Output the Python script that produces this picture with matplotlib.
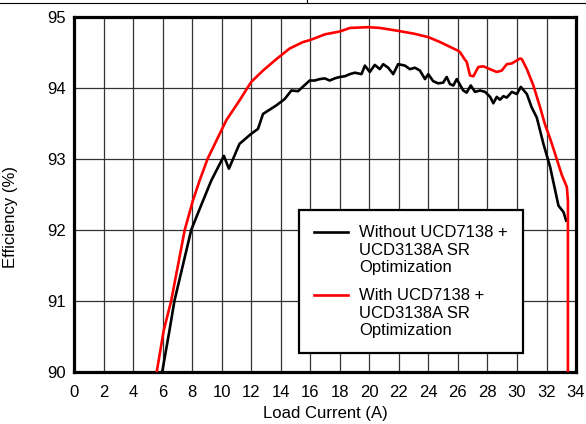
import matplotlib
matplotlib.use("Agg")
import matplotlib.pyplot as plt
from matplotlib.lines import Line2D
from matplotlib.legend_handler import HandlerLine2D

plt.rcParams['font.family'] = ['Liberation Sans', 'DejaVu Sans']

# load current (A) and efficiency (%) without SR optimization
i_without = [5.97, 6.47, 6.8, 7.94, 8.6, 9.29, 10.15, 10.49, 11.21, 12.0, 12.46, 12.8,
             13.7, 14.27, 14.72, 15.17, 15.96, 16.3, 16.64, 16.98, 17.32, 17.66, 18.0,
             18.34, 18.68, 19.02, 19.47, 19.7, 20.03, 20.37, 20.71, 20.94, 21.28, 21.62,
             21.95, 22.41, 22.75, 23.09, 23.43, 23.77, 23.99, 24.33, 24.67, 25.0, 25.24,
             25.46, 25.69, 25.92, 26.36, 26.59, 26.87, 27.16, 27.5, 27.84, 28.18, 28.4,
             28.63, 28.85, 29.08, 29.31, 29.65, 29.99, 30.26, 30.67, 31.0, 31.34, 31.79,
             32.25, 32.81, 33.15, 33.33]
eff_without = [90.0, 90.59, 91.0, 92.0, 92.34, 92.69, 93.04, 92.86, 93.21, 93.35, 93.42, 93.63,
               93.75, 93.84, 93.96, 93.95, 94.10, 94.10, 94.12, 94.13, 94.10, 94.13, 94.15,
               94.16, 94.19, 94.21, 94.19, 94.31, 94.22, 94.32, 94.26, 94.33, 94.28, 94.19,
               94.33, 94.31, 94.26, 94.28, 94.24, 94.12, 94.19, 94.09, 94.06, 94.07, 94.15,
               94.05, 94.03, 94.12, 93.96, 93.93, 94.03, 93.94, 93.96, 93.94, 93.87, 93.78,
               93.87, 93.83, 93.88, 93.86, 93.94, 93.91, 94.01, 93.91, 93.72, 93.58, 93.21,
               92.88, 92.34, 92.25, 92.13]

# load current (A) and efficiency (%) with SR optimization
i_with = [5.6, 6.08, 6.58, 7.5, 8.05, 8.5, 9.05, 10.31, 11.21, 12.0, 12.8, 13.7, 14.6,
          15.5, 16.0, 17.0, 18.0, 18.7, 19.9, 20.7, 21.9, 23.0, 24.0, 24.8, 25.0, 26.0,
          26.14, 26.45, 26.6, 26.82, 27.05, 27.38, 27.72, 28.17, 28.63, 28.97, 29.31,
          29.65, 30.21, 30.33, 30.67, 31.11, 31.57, 31.9, 32.25, 32.47, 33.04, 33.38,
          33.45, 33.45]
eff_with = [90.0, 90.59, 91.0, 92.0, 92.41, 92.69, 93.0, 93.54, 93.82, 94.08, 94.24, 94.40, 94.55,
            94.64, 94.67, 94.75, 94.79, 94.84, 94.85, 94.84, 94.80, 94.76, 94.71, 94.64, 94.62, 94.52,
            94.50, 94.40, 94.36, 94.17, 94.16, 94.29, 94.30, 94.26, 94.22, 94.24, 94.33,
            94.34, 94.41, 94.40, 94.26, 94.03, 93.72, 93.48, 93.28, 93.14, 92.77, 92.60,
            92.41, 90.0]

labels = ["Without UCD7138 +\nUCD3138A SR\nOptimization",
          "With UCD7138 +\nUCD3138A SR\nOptimization"]

FS = 12


class FirstLineHandler(HandlerLine2D):
    # put the legend line next to the first line of a 3-line label
    def create_artists(self, legend, orig_handle, xdescent, ydescent,
                       width, height, fontsize, trans):
        artists = super().create_artists(legend, orig_handle, xdescent, ydescent,
                                         width, height, fontsize, trans)
        for a in artists:
            a.set_ydata([y + 1.11 * fontsize for y in a.get_ydata()])
        return artists


fig = plt.figure(figsize=(5.86, 4.24), dpi=100)
ax = fig.add_axes([0.1263, 0.1226, 0.8567, 0.8384])

# page border line above the plot
fig.add_artist(Line2D([0, 1], [1 - 2.5 / 424] * 2, color='black', lw=0.8))
fig.add_artist(Line2D([307 / 586] * 2, [1 - 2.5 / 424, 1], color='black', lw=0.8))

ax.plot(i_without, eff_without, color='black', lw=1.9, label=labels[0], zorder=3)
ax.plot(i_with, eff_with, color='#ff0000', lw=1.9, label=labels[1], zorder=3)

ax.set_xlim(0, 34)
ax.set_ylim(90, 95)
ax.set_xticks(range(0, 35, 2))
ax.set_yticks(range(90, 96))
ax.tick_params(length=0, labelsize=FS)
ax.tick_params(axis='x', pad=9)
ax.tick_params(axis='y', pad=6)
ax.grid(True, color='#333333', lw=0.9)
ax.set_axisbelow(True)
for s in ax.spines.values():
    s.set_linewidth(2.3)

ax.set_xlabel("Load Current (A)", fontsize=FS, labelpad=5)
ax.set_ylabel("Efficiency (%)", fontsize=FS)
ax.yaxis.set_label_coords(-0.112, 0.437)

leg = ax.legend(loc='lower left', bbox_to_anchor=(0.448, 0.053), borderaxespad=0,
                fontsize=FS, frameon=True, fancybox=False, framealpha=1,
                handlelength=2.05, handletextpad=0.65, borderpad=0.9, labelspacing=0.8,
                handler_map={Line2D: FirstLineHandler()})
leg.get_frame().set_edgecolor('black')
leg.get_frame().set_linewidth(1.6)

fig.savefig("out.png", dpi=100)
